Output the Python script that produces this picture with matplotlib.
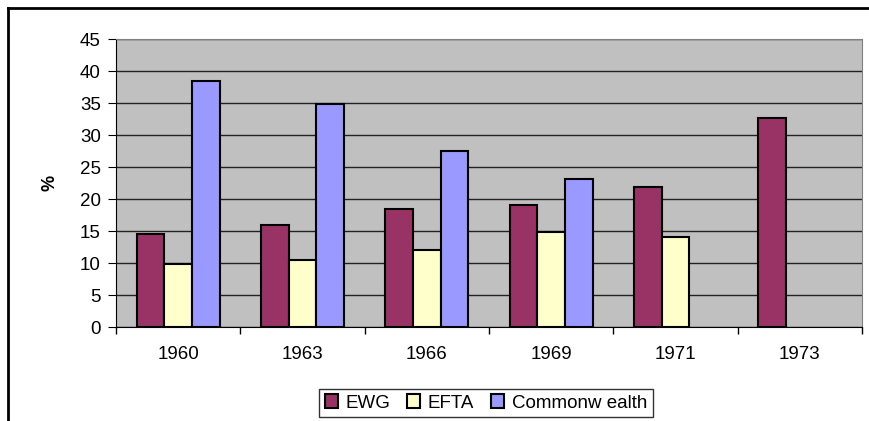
import matplotlib.pyplot as plt
import numpy as np
from matplotlib.lines import Line2D

# Anteil am Außenhandel (%)
jahre = ['1960', '1963', '1966', '1969', '1971', '1973']
ewg = [14.5, 16.0, 18.4, 19.1, 21.8, 32.7]
efta = [9.8, 10.5, 12.0, 14.9, 14.0, np.nan]
commonwealth = [38.5, 34.9, 27.5, 23.1, np.nan, np.nan]

serien = ['EWG', 'EFTA', 'Commonw ealth']
farben = ['#993366', '#FFFFCC', '#9999FF']

plt.rcParams['font.family'] = ['Liberation Sans', 'DejaVu Sans']

fig = plt.figure(figsize=(8.69, 4.21), dpi=100)
W, H = 869, 421

# äußerer Rahmen
fig.add_artist(Line2D([8 / W, 8 / W], [0, 1 - 8 / H], color='black', lw=2))
fig.add_artist(Line2D([8 / W, 1], [1 - 8 / H, 1 - 8 / H], color='black', lw=2))

ax = fig.add_axes([116 / W, 94 / H, 746 / W, 288 / H])
ax.set_facecolor('#C0C0C0')

x = np.arange(len(jahre))
breite = 1 / 4.5
for i, (werte, farbe, name) in enumerate(zip([ewg, efta, commonwealth], farben, serien)):
    ax.bar(x + (i - 1) * breite, werte, breite, color=farbe, edgecolor='black',
           linewidth=1.5, label=name, zorder=3)

ax.set_xlim(-0.5, len(jahre) - 0.5)
ax.set_ylim(0, 45)
ax.set_yticks(range(0, 50, 5))
ax.yaxis.grid(True, color='#222222', linewidth=1)
ax.set_axisbelow(True)
ax.set_xticks(x)
ax.set_xticklabels(jahre, fontsize=13.5)
ax.tick_params(axis='x', length=0, pad=14)
ax.set_xticks(np.arange(-0.5, len(jahre)), minor=True)
ax.tick_params(axis='x', which='minor', length=5, width=1, direction='out')
ax.tick_params(axis='y', labelsize=13.5, length=6, direction='out', pad=5)

for s in ['top', 'right']:
    ax.spines[s].set_color('#808080')
ax.spines['left'].set_color('black')
ax.spines['bottom'].set_color('black')

ax.set_ylabel('%', fontsize=13, fontweight='bold', labelpad=15)

leg = fig.legend(loc='center', bbox_to_anchor=(486 / W, 1 - 403 / H), ncol=3,
                 fontsize=13.5, frameon=True, fancybox=False, edgecolor='black',
                 handlelength=0.7, handleheight=0.7, handletextpad=0.4,
                 columnspacing=0.9, borderpad=0.3)
leg.get_frame().set_linewidth(1)

fig.savefig('out.png', dpi=100)
